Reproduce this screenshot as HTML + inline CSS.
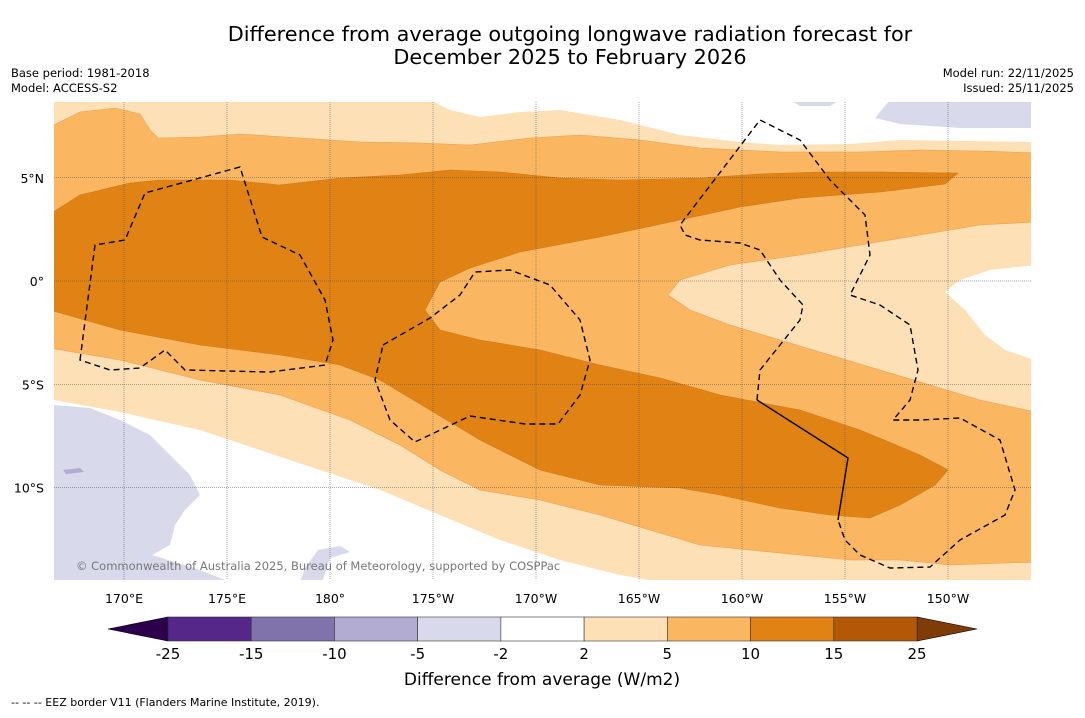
<!DOCTYPE html>
<html><head><meta charset="utf-8">
<style>
body{margin:0;background:#fff;font-family:"Liberation Sans","DejaVu Sans",sans-serif;}
svg text{font-family:"DejaVu Sans","Liberation Sans",sans-serif;}
</style></head>
<body>
<svg id="chart" width="1085" height="713" viewBox="0 0 1085 713" xmlns="http://www.w3.org/2000/svg">
<rect width="1085" height="713" fill="#fff"/>
<text x="570" y="41" font-size="20.8" text-anchor="middle">Difference from average outgoing longwave radiation forecast for</text>
<text x="570" y="64" font-size="20.8" text-anchor="middle">December 2025 to February 2026</text>
<text x="11" y="77" font-size="11.5">Base period: 1981-2018</text>
<text x="11" y="92" font-size="11.5">Model: ACCESS-S2</text>
<text x="1074" y="77" font-size="11.5" text-anchor="end">Model run: 22/11/2025</text>
<text x="1074" y="92" font-size="11.5" text-anchor="end">Issued: 25/11/2025</text>

<defs><clipPath id="mapclip"><rect x="54" y="102" width="977" height="478"/></clipPath></defs>
<g clip-path="url(#mapclip)">
<rect x="54" y="102" width="977" height="478" fill="#fde0b6"/>
<path fill="#fff" d="M430,100 L450,110 L480,117 L520,112 L560,110 L620,120 L680,135 L740,142 L780,145 L850,144 L900,140 L1031,142 L1040,100 Z"/>
<path fill="#fff" d="M54,400 L120,412 L200,430 L260,450 L320,470 L380,490 L440,515 L500,540 L560,560 L620,575 L660,582 L50,582 Z"/>
<path fill="#fff" d="M1035,265 L990,270 L960,280 L945,292 L965,310 L985,335 L1005,350 L1035,360 Z"/>
<path fill="#fbb662" stroke="#e9a050" stroke-width="0.6" d="M50,127 L80,112 L115,108 L140,114 L150,130 L158,138 L200,137 L240,134 L300,138 L360,142 L420,143 L470,145 L530,138 L580,135 L640,140 L700,148 L780,152 L860,152 L920,150 L980,151 L1035,153 L1035,222 L980,225 L920,235 L860,245 L800,255 L730,265 L680,280 L668,295 L690,310 L730,325 L780,340 L830,355 L880,370 L930,385 L980,400 L1035,412 L1035,562 L950,565 L900,560 L850,560 L800,555 L750,550 L700,545 L650,530 L600,515 L540,500 L480,490 L440,470 L400,445 L350,420 L280,395 L200,380 L120,360 L50,348 Z"/>
<path fill="#e08214" stroke="#d07a1a" stroke-width="0.6" d="M50,214 L80,195 L130,183 L160,180 L230,180 L280,185 L340,178 L400,175 L450,170 L500,172 L560,178 L620,180 L700,178 L760,174 L820,172 L880,172 L958,173 L945,184 L880,192 L800,198 L740,207 L680,220 L600,237 L520,252 L470,268 L440,282 L425,310 L440,330 L480,340 L540,350 L600,365 L660,378 L720,395 L800,410 L860,430 L920,455 L948,470 L935,485 L900,505 L870,518 L830,515 L780,508 L720,495 L680,488 L600,485 L540,470 L480,440 L430,410 L380,380 L340,365 L280,355 L200,345 L120,330 L50,310 Z"/>
<path fill="#d8daeb" d="M54,405 L90,408 L120,420 L150,435 L170,455 L190,475 L200,495 L185,510 L175,525 L170,545 L152,555 L200,570 L230,582 L50,582 Z"/>
<path fill="#d8daeb" d="M875,118 L890,100 L1035,100 L1035,128 L960,128 L900,124 Z"/>
<path fill="#d8daeb" d="M790,100 L840,100 L830,106 L800,106 Z"/>
<path fill="#d8daeb" d="M305,568 L318,550 L340,546 L350,552 L330,558 L322,582 L300,582 Z"/>
<path fill="#b2abd2" d="M63,470 L80,468 L84,472 L66,474 Z"/>
<g id="grid" stroke="#555" stroke-width="0.5" stroke-dasharray="1,1" fill="none"></g>
<g fill="none" stroke="#000" stroke-width="1.4" stroke-dasharray="6,4">
<path d="M80,360 L95,245 L125,240 L145,193 L240,167 L262,237 L300,255 L325,300 L333,340 L325,365 L270,372 L185,370 L165,350 L140,368 L110,370 Z"/>
<path d="M383,345 L430,318 L460,295 L475,272 L510,270 L550,285 L580,320 L590,360 L580,395 L558,424 L525,424 L470,416 L415,442 L390,420 L375,380 Z"/>
<path d="M757,400 L760,370 L780,345 L800,320 L803,305 L780,280 L760,250 L740,243 L700,240 L685,235 L680,225 L760,120 L800,140 L830,180 L865,215 L870,255 L850,295 L880,305 L910,325 L918,370 L910,400 L893,420 L920,420 L960,418 L1000,440 L1015,490 L1005,515 L960,540 L930,567 L890,568 L860,555 L845,540 L838,520"/>
<path d="M757,400 L848,458 L838,520" stroke-dasharray="none"/>
</g>
</g>
<text x="76" y="570" font-size="11.5" fill="#777">© Commonwealth of Australia 2025, Bureau of Meteorology, supported by COSPPac</text>
<g id="xlabels"></g>
<g id="ylabels"></g>
<g id="colorbar"></g>
<text x="542" y="685" font-size="17" text-anchor="middle">Difference from average (W/m2)</text>
<text x="11" y="706" font-size="11">--  --  -- EEZ border V11 (Flanders Marine Institute, 2019).</text>
</svg>
<script>
const lonLabels=["170°E","175°E","180°","175°W","170°W","165°W","160°W","155°W","150°W"];
const lonValues=[170,175,180,185,190,195,200,205,210];
const latLabels=["5°N","0°","5°S","10°S"];
const latValues=[5,0,-5,-10];
const cbTicks=["-25","-15","-10","-5","-2","2","5","10","15","25"];
const cbColors=["#542788","#8073ac","#b2abd2","#d8daeb","#ffffff","#fde0b6","#fbb662","#e08214","#b35806"];
(function(){
const NS="http://www.w3.org/2000/svg";
const xOf=lon=>124+(lon-170)*20.6;
const yOf=lat=>281-lat*20.65;
function mk(t,a,p){const e=document.createElementNS(NS,t);for(const k in a)e.setAttribute(k,a[k]);p.appendChild(e);return e;}
const grid=document.getElementById('grid'),xl=document.getElementById('xlabels'),yl=document.getElementById('ylabels');
lonValues.forEach((v,i)=>{const x=xOf(v);
 mk('line',{x1:x,x2:x,y1:102,y2:580},grid);
 const t=mk('text',{x:x,y:603,'font-size':12.5,'text-anchor':'middle'},xl);t.textContent=lonLabels[i];
 
 });
latValues.forEach((v,i)=>{const y=yOf(v);
 mk('line',{x1:54,x2:1031,y1:y,y2:y},grid);
 const t=mk('text',{x:44,y:y+5,'font-size':12.5,'text-anchor':'end'},yl);t.textContent=latLabels[i];
 
 });
const cb=document.getElementById('colorbar');
const cx0=168,cx1=917,cbTop=617,cbH=24,cw=(cx1-cx0)/cbColors.length;
mk('polygon',{points:`108,629 ${cx0},${cbTop} ${cx0},${cbTop+cbH}`,fill:'#2d004b',stroke:'#000','stroke-width':0.6},cb);
mk('polygon',{points:`977,629 ${cx1},${cbTop} ${cx1},${cbTop+cbH}`,fill:'#7f3b08',stroke:'#000','stroke-width':0.6},cb);
cbColors.forEach((c,i)=>{const r=mk('rect',{x:cx0+i*cw,y:cbTop,width:cw,height:cbH,fill:c,stroke:'#333','stroke-width':0.6},cb);
 
 });
cbTicks.forEach((s,i)=>{const t=mk('text',{x:cx0+i*cw,y:659,'font-size':15,'text-anchor':'middle'},cb);t.textContent=s;
 
 });
})();
</script>
</body></html>
